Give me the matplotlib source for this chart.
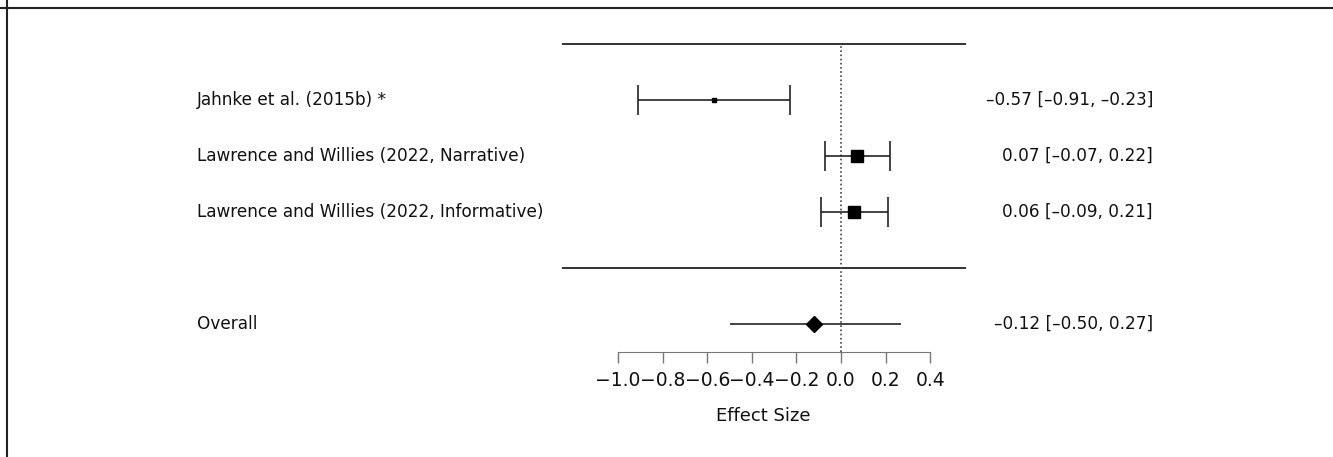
import numpy as np
import matplotlib
matplotlib.use("Agg")
import matplotlib.pyplot as plt
from matplotlib.lines import Line2D

# study rows (metafor-style forest plot)
studies = ["Jahnke et al. (2015b) *",
           "Lawrence and Willies (2022, Narrative)",
           "Lawrence and Willies (2022, Informative)"]
est = [-0.57, 0.07, 0.06]
lo = [-0.91, -0.07, -0.09]
hi = [-0.23, 0.22, 0.21]
msize = [2.5, 9, 9]
rows = [5, 4, 3]

overall_est = -0.12
overall_lo = -0.50
overall_hi = 0.27
overall_row = 1

ticks = [-1.0, -0.8, -0.6, -0.4, -0.2, 0.0, 0.2, 0.4]
tick_labels = ["\u22121.0", "\u22120.8", "\u22120.6", "\u22120.4", "\u22120.2", "0.0", "0.2", "0.4"]

W, H = 1333, 457
fig = plt.figure(figsize=(W / 100, H / 100), dpi=100)
ax = fig.add_axes([0, 0, 1, 1])

# pixel -> data mapping: x0 at px 841, 223 px per unit; row 5 at px 100, 56 px per row
ax.set_xlim((0 - 841) / 223, (W - 841) / 223)
ax.set_ylim(5 - (H - 100) / 56, 5 + 100 / 56)

col = "#222222"
ax.hlines([6, 2], -1.25, 0.56, color=col, lw=1.3)
ax.vlines(0, 0.5, 6, color="#444444", lw=1.2, linestyles=(0, (1, 1.5)))

for r, e, l, h, m in zip(rows, est, lo, hi, msize):
    ax.errorbar(e, r, xerr=[[e - l], [h - e]], fmt="s", color=col, ms=m,
                mfc="black", mec="black", ecolor=col, elinewidth=1.2,
                capsize=10.5, capthick=1.2)

ax.hlines(overall_row, overall_lo, overall_hi, color=col, lw=1.2)
ax.plot(overall_est, overall_row, marker="D", ms=8, color="black")

fs = 12.2
label_x = (197 - 841) / 223
right_x = (1153 - 841) / 223
for r, s in zip(rows, studies):
    ax.text(label_x, r, s, ha="left", va="center", fontsize=fs, color="#111111")
ax.text(label_x, overall_row, "Overall", ha="left", va="center", fontsize=fs, color="#111111")

def fmt(v):
    return f"{v:.2f}".replace("-", "\u2013")

for r, e, l, h in zip(rows + [overall_row], est + [overall_est], lo + [overall_lo], hi + [overall_hi]):
    ax.text(right_x, r, f"{fmt(e)} [{fmt(l)}, {fmt(h)}]", ha="right", va="center",
            fontsize=fs, color="#111111")

# x axis drawn as a spine at row 0.5
for s in ["left", "right", "top"]:
    ax.spines[s].set_visible(False)
ax.spines["bottom"].set_position(("data", 0.5))
ax.spines["bottom"].set_bounds(-1.0, 0.4)
ax.spines["bottom"].set_color("#777777")
ax.set_xticks(ticks)
ax.set_xticklabels(tick_labels)
ax.tick_params(axis="x", direction="out", length=8, width=1, color="#777777",
               labelsize=13.5, pad=6, labelcolor="#111111")
ax.set_yticks([])
ax.text(-0.35, 5 - (416 - 100) / 56, "Effect Size", ha="center", va="center",
        fontsize=13, color="#111111")

# frame lines at top and left of the crop
fig.add_artist(Line2D([0, 1], [1 - 7.5 / H, 1 - 7.5 / H], color="#222222", lw=1.5))
fig.add_artist(Line2D([7.5 / W, 7.5 / W], [0, 1], color="#222222", lw=1.5))

fig.savefig("out.png", dpi=100)
